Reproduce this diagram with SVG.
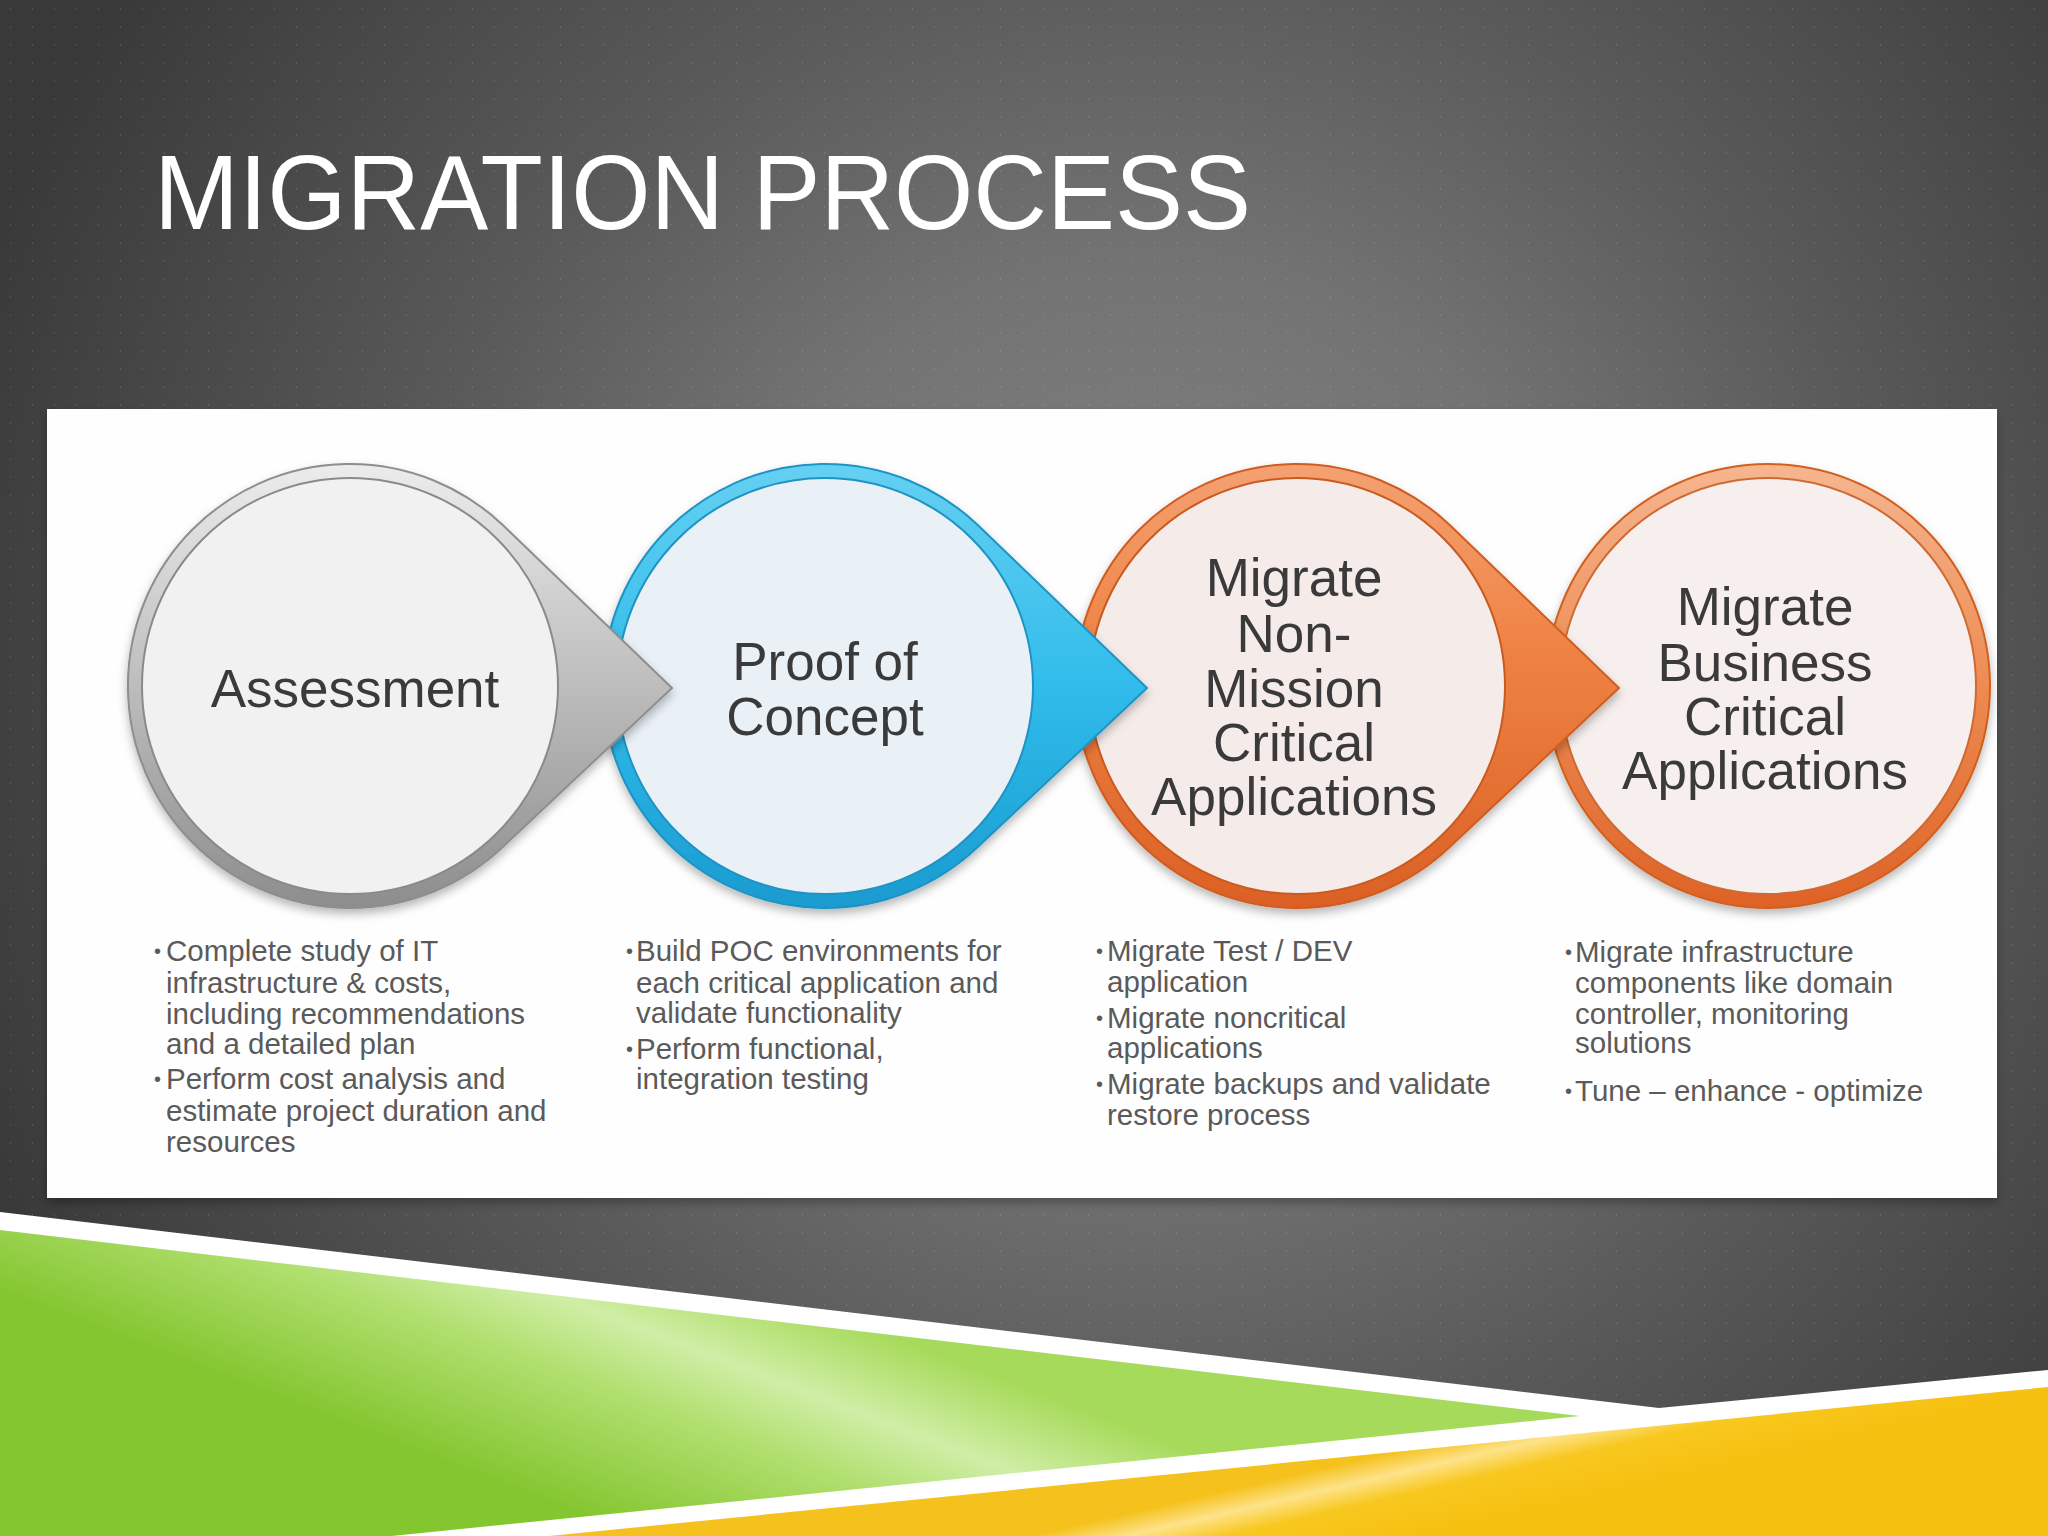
<svg xmlns="http://www.w3.org/2000/svg" width="2048" height="1536" viewBox="0 0 2048 1536">
<defs>
<style>
.lbl{font-family:"Liberation Sans",Arial,sans-serif;font-size:53px;fill:#3a3a3a;text-anchor:middle}
.txt{font-family:"Liberation Sans",Arial,sans-serif;font-size:29.5px;fill:#5a5a5a}
.dot{font-family:"Liberation Sans",Arial,sans-serif;font-size:20px;fill:#5a5a5a}
.title{font-family:"Liberation Sans",Arial,sans-serif;font-size:106px;fill:#ffffff}
</style>
<radialGradient id="bg" gradientUnits="userSpaceOnUse" cx="1150" cy="700" r="1250">
<stop offset="0" stop-color="#858585"/>
<stop offset="0.35" stop-color="#737373"/>
<stop offset="0.6" stop-color="#5a5a5a"/>
<stop offset="1" stop-color="#393939"/>
</radialGradient>
<pattern id="dots" width="22" height="18" patternUnits="userSpaceOnUse">
<rect x="10" y="8" width="1" height="2" fill="#ffffff" opacity="0.13"/>
</pattern>
<linearGradient id="gGray" x1="0" y1="0" x2="0" y2="1">
<stop offset="0" stop-color="#ececec"/>
<stop offset="0.35" stop-color="#cbcbcb"/>
<stop offset="1" stop-color="#8d8d8d"/>
</linearGradient>
<linearGradient id="gBlue" x1="0" y1="0" x2="0" y2="1">
<stop offset="0" stop-color="#66d0f2"/>
<stop offset="0.5" stop-color="#30bceb"/>
<stop offset="1" stop-color="#1a9bd0"/>
</linearGradient>
<linearGradient id="gOrange" x1="0" y1="0" x2="0" y2="1">
<stop offset="0" stop-color="#f4a172"/>
<stop offset="0.4" stop-color="#ef8445"/>
<stop offset="1" stop-color="#db6024"/>
</linearGradient>
<linearGradient id="gOrange2" x1="0" y1="0" x2="0" y2="1">
<stop offset="0" stop-color="#f6b690"/>
<stop offset="0.5" stop-color="#ed8b52"/>
<stop offset="1" stop-color="#de6226"/>
</linearGradient>
<linearGradient id="gGreen" gradientUnits="userSpaceOnUse" x1="800" y1="1300" x2="700" y2="1560">
<stop offset="0" stop-color="#a6da5a"/>
<stop offset="0.3" stop-color="#d0eea6"/>
<stop offset="0.55" stop-color="#b0df6e"/>
<stop offset="1" stop-color="#84c630"/>
</linearGradient>
<linearGradient id="gYellow" gradientUnits="userSpaceOnUse" x1="1400" y1="1450" x2="1420" y2="1536">
<stop offset="0" stop-color="#f5c11c"/>
<stop offset="0.25" stop-color="#fde38a"/>
<stop offset="0.5" stop-color="#f8c820"/>
<stop offset="1" stop-color="#f6c010"/>
</linearGradient>
<filter id="sh" x="-20%" y="-20%" width="140%" height="140%">
<feDropShadow dx="0" dy="5" stdDeviation="5" flood-color="#000000" flood-opacity="0.28"/>
</filter>
</defs>

<rect x="0" y="0" width="2048" height="1536" fill="url(#bg)"/>
<rect x="0" y="0" width="2048" height="1536" fill="url(#dots)"/>

<g id="footer">
<polygon points="0,1212 1659,1408 2048,1370 2048,1536 0,1536" fill="#ffffff"/>
<polygon points="0,1230 1580,1416 392,1536 0,1536" fill="url(#gGreen)"/>
<polygon points="549,1536 2048,1387 2048,1536" fill="url(#gYellow)"/>
</g>

<text class="title" x="154" y="229" textLength="1097" lengthAdjust="spacingAndGlyphs">MIGRATION PROCESS</text>

<rect id="panel" x="47" y="409" width="1950" height="789" fill="#fefefe" filter="url(#sh)"/>

<g id="node-business-critical">
<circle cx="1768" cy="686" r="222" fill="url(#gOrange2)" stroke="#d0601f" stroke-width="2" filter="url(#sh)"/>
<circle cx="1768" cy="686" r="208" fill="#f6efed" stroke="#cf6a34" stroke-width="2"/>
<text class="lbl" x="1765" y="625"><tspan x="1765" y="625">Migrate</tspan><tspan x="1765" y="681">Business</tspan><tspan x="1765" y="735">Critical</tspan><tspan x="1765" y="789">Applications</tspan></text>
</g>

<g id="node-non-mission-critical">
<path d="M1450,525.2 L1619,688 L1450,846.8 A222,222 0 1 1 1450,525.2 Z" fill="url(#gOrange)" stroke="#cf5d22" stroke-width="2" filter="url(#sh)"/>
<circle cx="1297" cy="686" r="208" fill="#f5ecea" stroke="#c95a20" stroke-width="2"/>
<text class="lbl" x="1294" y="596"><tspan x="1294" y="596">Migrate</tspan><tspan x="1294" y="652">Non-</tspan><tspan x="1294" y="707">Mission</tspan><tspan x="1294" y="761">Critical</tspan><tspan x="1294" y="815">Applications</tspan></text>
</g>

<g id="node-proof-of-concept">
<path d="M978,525.2 L1147,688 L978,846.8 A222,222 0 1 1 978,525.2 Z" fill="url(#gBlue)" stroke="#1e94c4" stroke-width="2" filter="url(#sh)"/>
<circle cx="825" cy="686" r="208" fill="#e9f0f6" stroke="#1f93c3" stroke-width="2"/>
<text class="lbl" x="825" y="680"><tspan x="825" y="680">Proof of</tspan><tspan x="825" y="735">Concept</tspan></text>
</g>

<g id="node-assessment">
<path d="M503,525.2 L672,688 L503,846.8 A222,222 0 1 1 503,525.2 Z" fill="url(#gGray)" stroke="#8e8e8e" stroke-width="2" filter="url(#sh)"/>
<circle cx="350" cy="686" r="208" fill="#f1f1f1" stroke="#8a8a8a" stroke-width="2"/>
<text class="lbl" x="355" y="707">Assessment</text>
</g>

<g id="text-assessment">
<text class="dot" x="154" y="958">•</text>
<text class="txt" x="166" y="961">Complete study of IT</text>
<text class="txt" x="166" y="993">infrastructure &amp; costs,</text>
<text class="txt" x="166" y="1024">including recommendations</text>
<text class="txt" x="166" y="1054">and a detailed plan</text>
<text class="dot" x="154" y="1086">•</text>
<text class="txt" x="166" y="1089">Perform cost analysis and</text>
<text class="txt" x="166" y="1121">estimate project duration and</text>
<text class="txt" x="166" y="1152">resources</text>
</g>

<g id="text-poc">
<text class="dot" x="626" y="958">•</text>
<text class="txt" x="636" y="961">Build POC environments for</text>
<text class="txt" x="636" y="993">each critical application and</text>
<text class="txt" x="636" y="1023">validate functionality</text>
<text class="dot" x="626" y="1056">•</text>
<text class="txt" x="636" y="1059">Perform functional,</text>
<text class="txt" x="636" y="1089">integration testing</text>
</g>

<g id="text-non-mission">
<text class="dot" x="1096" y="958">•</text>
<text class="txt" x="1107" y="961">Migrate Test / DEV</text>
<text class="txt" x="1107" y="992">application</text>
<text class="dot" x="1096" y="1025">•</text>
<text class="txt" x="1107" y="1028">Migrate noncritical</text>
<text class="txt" x="1107" y="1058">applications</text>
<text class="dot" x="1096" y="1091">•</text>
<text class="txt" x="1107" y="1094">Migrate backups and validate</text>
<text class="txt" x="1107" y="1125">restore process</text>
</g>

<g id="text-business">
<text class="dot" x="1565" y="959">•</text>
<text class="txt" x="1575" y="962">Migrate infrastructure</text>
<text class="txt" x="1575" y="993">components like domain</text>
<text class="txt" x="1575" y="1024">controller, monitoring</text>
<text class="txt" x="1575" y="1053">solutions</text>
<text class="dot" x="1565" y="1098">•</text>
<text class="txt" x="1575" y="1101">Tune – enhance - optimize</text>
</g>
</svg>
